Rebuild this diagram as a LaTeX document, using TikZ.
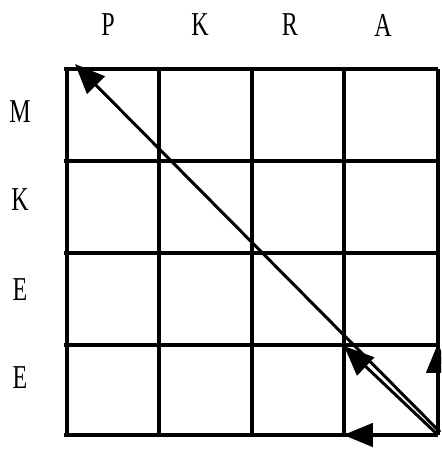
\documentclass[tikz,border=0pt]{standalone}
\usepackage{fontspec}
\setmainfont{Liberation Serif}
\usetikzlibrary{arrows.meta}
\tikzset{
  gridline/.style = {line width=1.9pt},
  lbl/.style      = {font=\fontsize{19}{19}\selectfont, xscale=0.72, inner sep=0pt},
  diag/.style     = {-{Triangle[length=17pt,width=14pt]}, line width=1.7pt},
  move/.style     = {-{Triangle[length=17pt,width=13pt]}, line width=2.8pt},
}

\begin{document}
\begin{tikzpicture}[x=0.02cm, y=-0.02cm]
  \useasboundingbox (0,0) rectangle (441,449);
  \clip (0,0) rectangle (441,449);

  % board
  \foreach \gx in {67,159,252,344,438}
    \draw[gridline] (\gx,69) -- (\gx,435);
  \foreach \gy in {69,161,253,345,435}
    \draw[gridline] (64,\gy) -- (438,\gy);

  % column and row labels
  \foreach \ltr/\lx [count=\i] in {P/108,K/200,R/290,A/383}
    \node[lbl] (col\i) at (\lx,25) {\ltr};
  \foreach \ltr/\ly [count=\i] in {M/112,K/200,E/290,E/378}
    \node[lbl] (row\i) at (20,\ly) {\ltr};

  % corner and targets
  \coordinate (corner) at (438,435);
  \coordinate (cornerB) at (440,432);
  \coordinate (farend) at (75,64);
  \coordinate (near) at (344,346);
  \coordinate (left) at (343,435);
  \coordinate (up) at (438,343);

  \draw[diag] (cornerB) -- (farend);
  \draw[diag] (corner) -- (near);
  \draw[move] (corner) -- (left);
  \draw[move] (corner) -- (up);
\end{tikzpicture}
\end{document}
